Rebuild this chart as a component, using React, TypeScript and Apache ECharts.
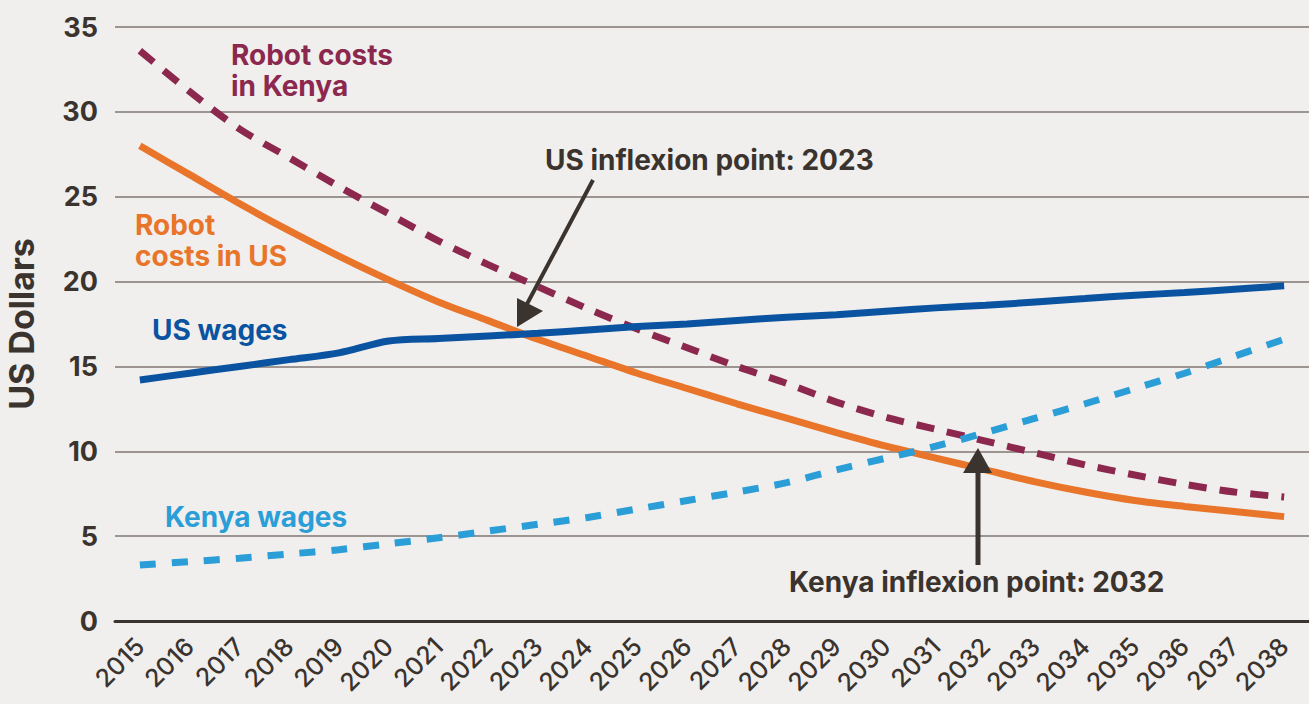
import React, { useEffect, useRef } from "react";
import * as echarts from "echarts";

const years = ["2015","2016","2017","2018","2019","2020","2021","2022","2023","2024","2025","2026","2027","2028","2029","2030","2031","2032","2033","2034","2035","2036","2037","2038"];
const usWages = [14.2,14.6,15.0,15.4,15.8,16.5,16.65,16.8,16.95,17.15,17.35,17.5,17.7,17.9,18.05,18.25,18.45,18.6,18.8,19.0,19.2,19.35,19.55,19.75];
const kenyaWages = [3.3,3.5,3.7,3.95,4.2,4.55,4.9,5.3,5.7,6.1,6.6,7.1,7.6,8.15,8.9,9.6,10.3,11.1,11.95,12.8,13.7,14.6,15.6,16.6];
const robotUS = [28.0,26.3,24.6,23.0,21.5,20.1,18.8,17.7,16.6,15.6,14.6,13.7,12.8,11.95,11.1,10.3,9.6,8.9,8.2,7.6,7.1,6.75,6.45,6.15];
const robotKenya = [33.6,31.2,29.0,27.3,25.6,24.0,22.4,21.0,19.7,18.4,17.2,16.1,15.0,14.0,12.9,12.0,11.3,10.6,9.9,9.2,8.6,8.05,7.6,7.3];
const yTicks = { min: 0, max: 35, interval: 5 };

const C = {
  bg: "#f0efed",
  text: "#3a332e",
  grid: "#9b9490",
  usW: "#0a53a1",
  keW: "#2b9ed8",
  roUS: "#e8752a",
  roKE: "#8c284e",
};
const FONT = "Inter, 'Noto Sans', sans-serif";

export default function App() {
  const ref = useRef<HTMLDivElement>(null);
  useEffect(() => {
    document.body.style.margin = "0";
    const chart = echarts.init(ref.current!, null, { renderer: "svg" });
    const txt = (x: number, y: number, text: string, color: string, size = 28) => ({
      type: "text",
      x,
      y,
      z: 100,
      style: {
        text,
        fill: color,
        font: `700 ${size}px ${FONT}`,
        lineHeight: 31,
        verticalAlign: "top",
      },
    });
    chart.setOption({
      animation: false,
      backgroundColor: C.bg,
      grid: { left: 115, right: 0, top: 27, bottom: 83, containLabel: false, outerBoundsMode: "none" },
      xAxis: {
        type: "category",
        data: years,
        boundaryGap: true,
        axisLine: { show: true, lineStyle: { color: C.text, width: 3 } },
        axisTick: { show: false },
        axisLabel: {
          rotate: 45,
          color: C.text,
          fontFamily: FONT,
          fontSize: 25,
          fontWeight: 500,
          margin: 21,
          interval: 0,
        },
      },
      yAxis: {
        type: "value",
        min: yTicks.min,
        max: yTicks.max,
        interval: yTicks.interval,
        name: "US Dollars",
        nameLocation: "middle",
        nameGap: 77,
        nameTextStyle: { color: C.text, fontFamily: FONT, fontSize: 34, fontWeight: 700 },
        axisLine: { show: false },
        axisTick: { show: false },
        axisLabel: { color: C.text, fontFamily: FONT, fontSize: 27, fontWeight: 700, margin: 17 },
        splitLine: { lineStyle: { color: C.grid, width: 2 } },
      },
      series: [
        {
          name: "Robot costs in Kenya",
          type: "line",
          data: robotKenya,
          smooth: 0.3,
          symbol: "none",
          lineStyle: { color: C.roKE, width: 7, type: [18, 13] },
        },
        {
          name: "Robot costs in US",
          type: "line",
          data: robotUS,
          smooth: 0.3,
          symbol: "none",
          lineStyle: { color: C.roUS, width: 7 },
        },
        {
          name: "Kenya wages",
          type: "line",
          data: kenyaWages,
          smooth: 0.3,
          symbol: "none",
          lineStyle: { color: C.keW, width: 7, type: [16, 16] },
        },
        {
          name: "US wages",
          type: "line",
          data: usWages,
          smooth: 0.3,
          symbol: "none",
          lineStyle: { color: C.usW, width: 7 },
        },
      ],
      graphic: [
        txt(231, 39, "Robot costs\nin Kenya", C.roKE),
        txt(135, 209, "Robot\ncosts in US", C.roUS),
        txt(152, 314, "US wages", C.usW),
        txt(165, 501, "Kenya wages", C.keW),
        txt(545, 144, "US inflexion point: 2023", C.text),
        txt(789, 566, "Kenya inflexion point: 2032", C.text),
        {
          type: "line",
          z: 100,
          shape: { x1: 593, y1: 180, x2: 527, y2: 304 },
          style: { stroke: C.text, lineWidth: 4 },
        },
        {
          type: "polygon",
          z: 100,
          shape: { points: [[517, 327], [543, 311], [517, 298]] },
          style: { fill: C.text },
        },
        {
          type: "line",
          z: 100,
          shape: { x1: 978, y1: 565, x2: 978, y2: 470 },
          style: { stroke: C.text, lineWidth: 5 },
        },
        {
          type: "polygon",
          z: 100,
          shape: { points: [[978, 448], [992, 473], [963, 473]] },
          style: { fill: C.text },
        },
      ],
    });
    return () => chart.dispose();
  }, []);
  return <div ref={ref} style={{ width: 1309, height: 704 }} />;
}
